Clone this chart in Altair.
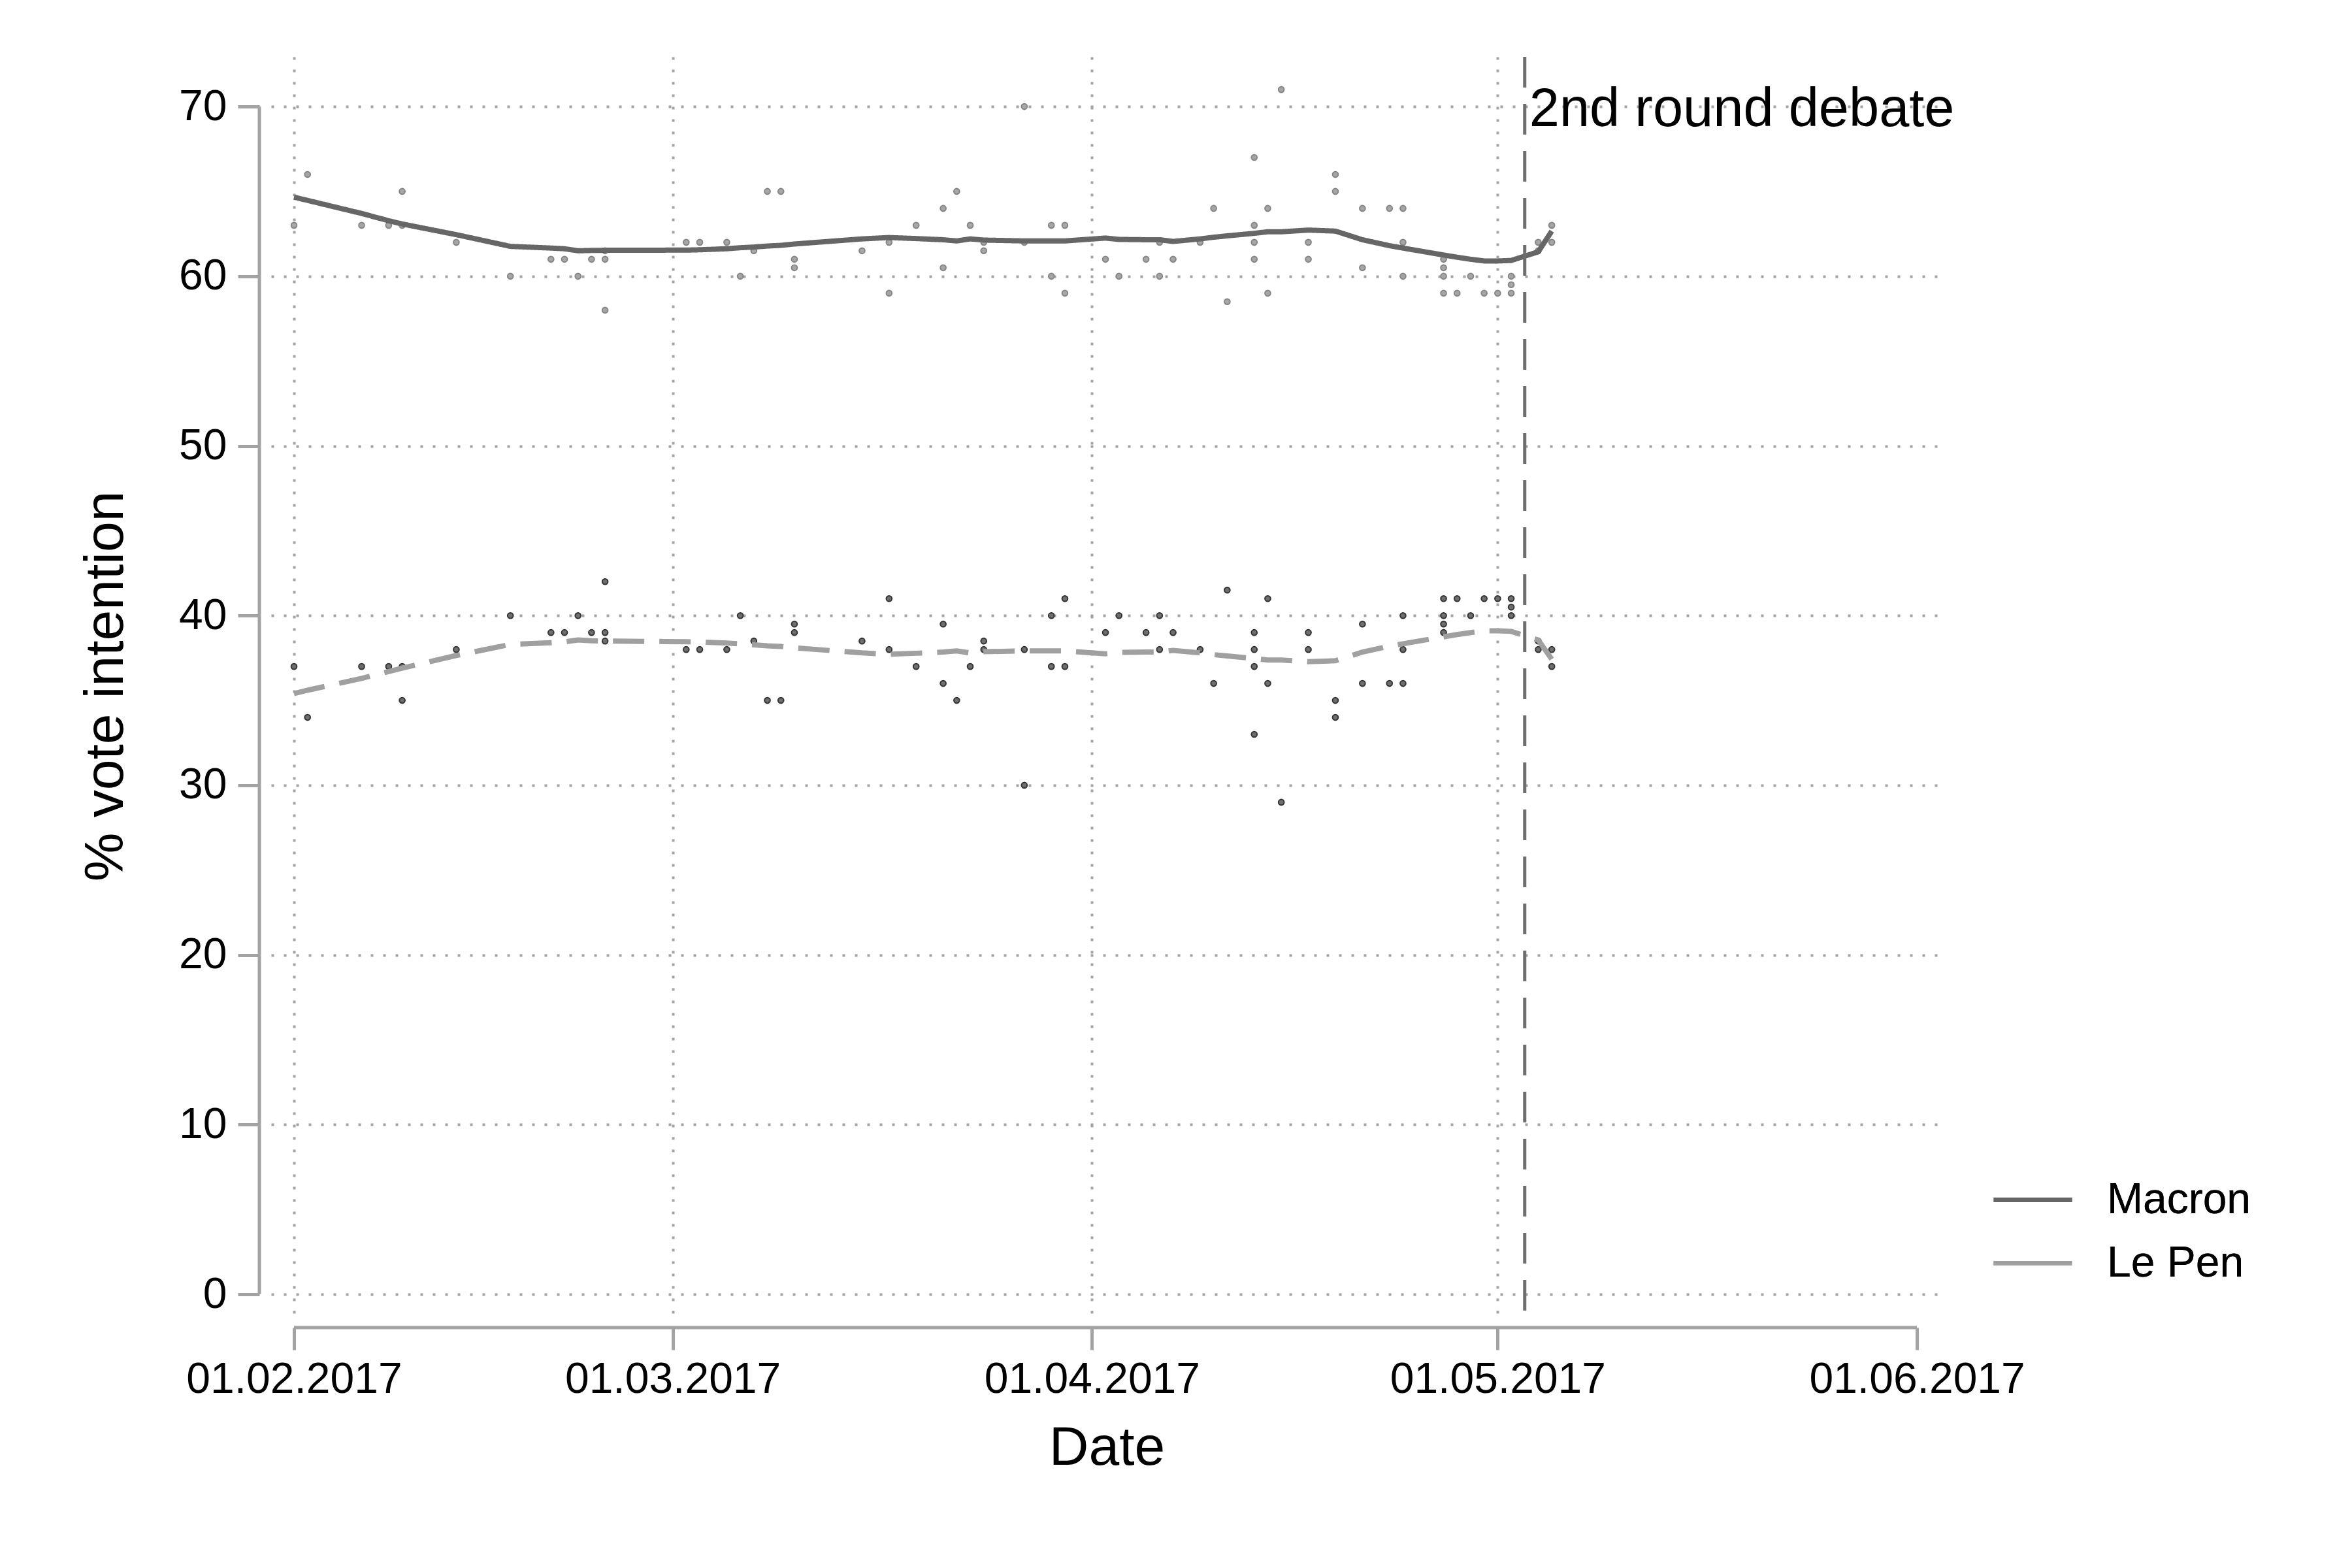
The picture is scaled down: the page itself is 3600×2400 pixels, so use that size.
import altair as alt
import pandas as pd

# ---------------- data ----------------
series_names = ["Macron", "Le Pen"]

poll_dates = [
    "2017-02-01", "2017-02-02", "2017-02-06", "2017-02-08", "2017-02-09", "2017-02-09",
    "2017-02-13", "2017-02-17", "2017-02-20", "2017-02-21", "2017-02-22", "2017-02-23",
    "2017-02-24", "2017-02-24", "2017-02-24", "2017-03-02", "2017-03-03", "2017-03-05",
    "2017-03-06", "2017-03-07", "2017-03-08", "2017-03-09", "2017-03-10", "2017-03-10",
    "2017-03-15", "2017-03-17", "2017-03-17", "2017-03-19", "2017-03-21", "2017-03-21",
    "2017-03-22", "2017-03-23", "2017-03-24", "2017-03-24", "2017-03-27", "2017-03-27",
    "2017-03-29", "2017-03-29", "2017-03-30", "2017-03-30", "2017-04-02", "2017-04-03",
    "2017-04-05", "2017-04-06", "2017-04-06", "2017-04-07", "2017-04-09", "2017-04-10",
    "2017-04-11", "2017-04-13", "2017-04-13", "2017-04-13", "2017-04-13", "2017-04-14",
    "2017-04-14", "2017-04-15", "2017-04-17", "2017-04-17", "2017-04-19", "2017-04-19",
    "2017-04-21", "2017-04-21", "2017-04-23", "2017-04-24", "2017-04-24", "2017-04-24",
    "2017-04-27", "2017-04-27", "2017-04-27", "2017-04-27", "2017-04-28", "2017-04-29",
    "2017-04-30", "2017-05-01", "2017-05-02", "2017-05-02", "2017-05-02", "2017-05-04",
    "2017-05-04", "2017-05-05", "2017-05-05",
]
macron_polls = [
    63, 66, 63, 63, 65, 63,
    62, 60, 61, 61, 60, 61,
    61, 61.5, 58, 62, 62, 62,
    60, 61.5, 65, 65, 61, 60.5,
    61.5, 62, 59, 63, 64, 60.5,
    65, 63, 62, 61.5, 62, 70,
    63, 60, 63, 59, 61, 60,
    61, 62, 60, 61, 62, 64,
    58.5, 67, 63, 62, 61, 64,
    59, 71, 62, 61, 66, 65,
    64, 60.5, 64, 64, 62, 60,
    61, 60.5, 60, 59, 59, 60,
    59, 59, 60, 59.5, 59, 62,
    61.5, 63, 62,
]
lepen_polls = [
    37, 34, 37, 37, 35, 37,
    38, 40, 39, 39, 40, 39,
    39, 38.5, 42, 38, 38, 38,
    40, 38.5, 35, 35, 39, 39.5,
    38.5, 38, 41, 37, 36, 39.5,
    35, 37, 38, 38.5, 38, 30,
    37, 40, 37, 41, 39, 40,
    39, 38, 40, 39, 38, 36,
    41.5, 33, 37, 38, 39, 36,
    41, 29, 38, 39, 34, 35,
    36, 39.5, 36, 36, 38, 40,
    39, 39.5, 40, 41, 41, 40,
    41, 41, 40, 40.5, 41, 38,
    38.5, 37, 38,
]

smooth_dates = [
    "2017-02-01", "2017-02-02", "2017-02-06", "2017-02-08", "2017-02-09", "2017-02-13",
    "2017-02-17", "2017-02-20", "2017-02-21", "2017-02-22", "2017-02-23", "2017-02-24",
    "2017-03-02", "2017-03-03", "2017-03-05", "2017-03-06", "2017-03-07", "2017-03-08",
    "2017-03-09", "2017-03-10", "2017-03-15", "2017-03-17", "2017-03-19", "2017-03-21",
    "2017-03-22", "2017-03-23", "2017-03-24", "2017-03-27", "2017-03-29", "2017-03-30",
    "2017-04-02", "2017-04-03", "2017-04-05", "2017-04-06", "2017-04-07", "2017-04-09",
    "2017-04-10", "2017-04-11", "2017-04-13", "2017-04-14", "2017-04-15", "2017-04-17",
    "2017-04-19", "2017-04-21", "2017-04-23", "2017-04-24", "2017-04-27", "2017-04-28",
    "2017-04-29", "2017-04-30", "2017-05-01", "2017-05-02", "2017-05-04", "2017-05-05",
]
macron_smooth = [
    64.66, 64.47, 63.7, 63.27, 63.08, 62.45,
    61.76, 61.66, 61.62, 61.5, 61.52, 61.53,
    61.54, 61.56, 61.62, 61.68, 61.72, 61.78,
    61.82, 61.9, 62.2, 62.28, 62.22, 62.15,
    62.08, 62.2, 62.13, 62.08, 62.08, 62.08,
    62.25, 62.17, 62.15, 62.15, 62.05, 62.2,
    62.3, 62.38, 62.53, 62.62, 62.62, 62.72,
    62.66, 62.15, 61.8, 61.66, 61.25, 61.12,
    61.0, 60.9, 60.9, 60.93, 61.44, 62.66,
]
lepen_smooth = [
    35.4, 35.6, 36.3, 36.7, 36.9, 37.65,
    38.3, 38.4, 38.45, 38.56, 38.52, 38.5,
    38.46, 38.44, 38.38, 38.33, 38.28, 38.22,
    38.18, 38.1, 37.8, 37.72, 37.78, 37.85,
    37.92, 37.8, 37.87, 37.92, 37.92, 37.92,
    37.75, 37.83, 37.85, 37.85, 37.95, 37.8,
    37.7, 37.62, 37.47, 37.38, 37.38, 37.28,
    37.34, 37.85, 38.2, 38.34, 38.75, 38.88,
    39.0, 39.1, 39.1, 39.07, 38.56, 37.43,
]

x_ticks = ["2017-02-01", "2017-03-01", "2017-04-01", "2017-05-01", "2017-06-01"]
y_ticks = [0, 10, 20, 30, 40, 50, 60, 70]
debate_date = "2017-05-03"
debate_label = "2nd round debate"
debate_label_y = 70

# ---------------- tables ----------------
polls = pd.DataFrame({
    "date": poll_dates * 2,
    "value": macron_polls + lepen_polls,
    "series": ["Macron"] * len(poll_dates) + ["Le Pen"] * len(poll_dates),
})
smooth = pd.DataFrame({
    "date": smooth_dates * 2,
    "value": macron_smooth + lepen_smooth,
    "series": ["Macron"] * len(smooth_dates) + ["Le Pen"] * len(smooth_dates),
})
debate = pd.DataFrame({"date": [debate_date], "label": [debate_label], "value": [debate_label_y]})
yline = pd.DataFrame({"value": [min(y_ticks)], "value2": [max(y_ticks)]})
xline = pd.DataFrame({"date": [x_ticks[0]], "date2": [x_ticks[-1]]})

# ---------------- layout ----------------
W, H = 2558, 1926
FONT = "Liberation Sans"
GRAY = "#a3a3a3"
Y_OFF = 18
X_OFF = 19

xscale = alt.Scale(
    type="utc",
    domain=[
        alt.DateTime(year=2017, month=1, date=30, hours=7, minutes=26, utc=True),
        alt.DateTime(year=2017, month=6, date=2, hours=21, minutes=7, utc=True),
    ],
    nice=False,
)
yscale = alt.Scale(domain=[-1.23, 72.93], nice=False, zero=False)

xaxis = alt.Axis(
    values=[alt.DateTime(year=2017, month=m, date=1, utc=True) for m in [2, 3, 4, 5, 6]],
    format="%d.%m.%Y",
    domain=False, offset=X_OFF,
    ticks=True, tickSize=34, tickWidth=5, tickColor=GRAY,
    labelFont=FONT, labelFontSize=66, labelColor="black", labelPadding=13, labelFlush=False,
    labelOverlap=False, labelLimit=0,
    grid=True, gridColor=GRAY, gridWidth=4, gridDash=[4, 15],
    gridOpacity={"condition": {"test": "utcmonth(datum.value) == 5", "value": 0}, "value": 1},
    title="Date", titleFont=FONT, titleFontSize=84, titleFontWeight="normal",
    titleColor="black", titlePadding=31,
)
yaxis = alt.Axis(
    values=y_ticks,
    domain=False, offset=Y_OFF,
    ticks=True, tickSize=33, tickWidth=5, tickColor=GRAY,
    labelFont=FONT, labelFontSize=66, labelColor="black", labelPadding=17,
    labelOverlap=False, labelLimit=0,
    grid=True, gridColor=GRAY, gridWidth=4, gridDash=[4, 15],
    title="% vote intention", titleFont=FONT, titleFontSize=84, titleFontWeight="normal",
    titleColor="black", titlePadding=68,
)


def X(field):
    return alt.X(field, type="temporal", scale=xscale, axis=xaxis)


def Y(field):
    return alt.Y(field, type="quantitative", scale=yscale, axis=yaxis)


legend = alt.Legend(
    title=None, orient="none", legendX=2633, legendY=1686,
    symbolType="stroke", symbolSize=14400, symbolStrokeWidth=7,
    labelFont=FONT, labelFontSize=66, labelColor="black", labelOffset=50, labelLimit=0,
    rowPadding=-21, padding=0,
)

points = alt.Chart(polls).mark_circle(size=75, strokeWidth=2, opacity=1).encode(
    x=X("date"),
    y=Y("value"),
    fill=alt.Fill("series:N", scale=alt.Scale(domain=series_names, range=["#a6a6a6", "#6e6e6e"]), legend=None),
    stroke=alt.Stroke("series:N", scale=alt.Scale(domain=series_names, range=["#858585", "#333333"]), legend=None),
)

lines = alt.Chart(smooth).mark_line(strokeWidth=8, strokeCap="butt").encode(
    x=X("date"),
    y=Y("value"),
    color=alt.Color("series:N", scale=alt.Scale(domain=series_names, range=["#666666", "#a0a0a0"]),
                    sort=series_names, legend=legend),
    strokeDash=alt.StrokeDash("series:N", scale=alt.Scale(domain=series_names, range=[[1, 0], [48, 23]]),
                              sort=series_names, legend=legend),
)

debate_rule = alt.Chart(debate).mark_rule(color="#6e6e6e", strokeWidth=5, strokeDash=[47, 25]).encode(
    x=X("date"),
    y=alt.value(0),
    y2=alt.value(H + X_OFF),
)

debate_text = alt.Chart(debate).mark_text(
    align="left", baseline="alphabetic", dx=7, dy=30, fontSize=83, font=FONT, color="black"
).encode(
    x=X("date"),
    y=Y("value"),
    text="label:N",
)

y_axis_line = alt.Chart(yline).mark_rule(color=GRAY, strokeWidth=5).encode(
    x=alt.value(-Y_OFF),
    y=Y("value"),
    y2="value2:Q",
)

x_axis_line = alt.Chart(xline).mark_rule(color=GRAY, strokeWidth=5).encode(
    x=X("date"),
    x2="date2:T",
    y=alt.value(H + X_OFF),
)

chart = alt.layer(
    points, lines, debate_rule, debate_text, y_axis_line, x_axis_line
).resolve_scale(
    color="independent", fill="independent", stroke="independent"
).properties(
    width=W, height=H,
    autosize="none",
    padding={"left": 407, "top": 79, "right": 619, "bottom": 379},
    background="white",
).configure_view(stroke=None)

chart.save("out.html", embed_options={"renderer": "svg", "actions": False})
